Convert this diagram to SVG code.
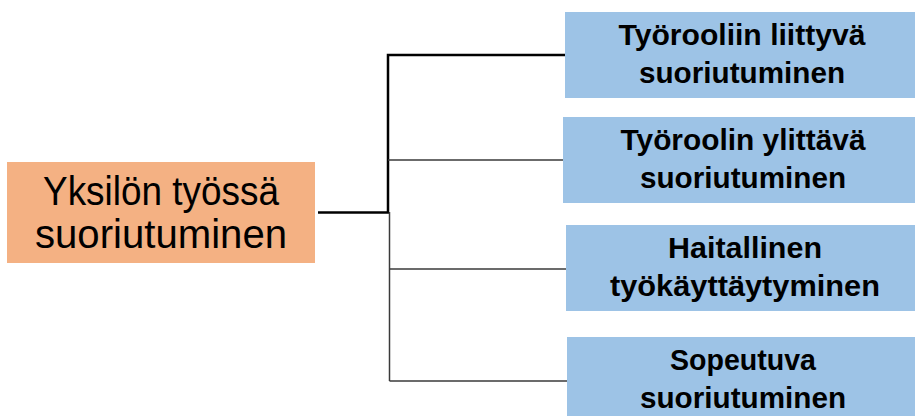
<svg xmlns="http://www.w3.org/2000/svg" width="915" height="416" viewBox="0 0 915 416">
  <style>
    .root { fill: #F4B183; }
    .leaf { fill: #9DC3E6; }
    .root-text { font-family: "Liberation Sans", Arial, sans-serif; font-size: 40px; fill: #000; text-anchor: middle; }
    .leaf-text { font-family: "Liberation Sans", Arial, sans-serif; font-size: 29px; font-weight: bold; fill: #000; text-anchor: middle; }
    .strong { stroke: #000; stroke-width: 2.5; fill: none; }
    .thin { stroke: #3a3a3a; stroke-width: 1.5; fill: none; }
  </style>
  <rect width="915" height="416" fill="#fff"/>

  <!-- connectors: trunk, spine and branches -->
  <g id="connectors">
    <line class="strong" x1="318" y1="212.5" x2="389" y2="212.5"/>
    <polyline class="strong" points="388,212.5 388,55 565,55"/>
    <line class="thin" x1="389.5" y1="212" x2="389.5" y2="381"/>
    <line class="thin" x1="388" y1="160" x2="563" y2="160"/>
    <line class="thin" x1="389" y1="269" x2="566" y2="269"/>
    <line class="thin" x1="389.5" y1="381" x2="567" y2="381"/>
  </g>

  <g id="node-root">
    <rect class="root" x="7" y="162" width="308" height="101"/>
    <text class="root-text" x="161" y="205" textLength="236" lengthAdjust="spacingAndGlyphs">Yksilön työssä</text>
    <text class="root-text" x="161" y="248" textLength="252" lengthAdjust="spacingAndGlyphs">suoriutuminen</text>
  </g>

  <g id="node-tyorooliin">
    <rect class="leaf" x="565" y="12" width="350" height="86"/>
    <text class="leaf-text" x="742" y="45" textLength="247" lengthAdjust="spacingAndGlyphs">Työrooliin liittyvä</text>
    <text class="leaf-text" x="742" y="83" textLength="206" lengthAdjust="spacingAndGlyphs">suoriutuminen</text>
  </g>

  <g id="node-ylittava">
    <rect class="leaf" x="563" y="117" width="352" height="86"/>
    <text class="leaf-text" x="743" y="150" textLength="245" lengthAdjust="spacingAndGlyphs">Työroolin ylittävä</text>
    <text class="leaf-text" x="743" y="188" textLength="206" lengthAdjust="spacingAndGlyphs">suoriutuminen</text>
  </g>

  <g id="node-haitallinen">
    <rect class="leaf" x="566" y="225" width="349" height="86"/>
    <text class="leaf-text" x="745" y="258" textLength="154" lengthAdjust="spacingAndGlyphs">Haitallinen</text>
    <text class="leaf-text" x="745" y="296" textLength="270" lengthAdjust="spacingAndGlyphs">työkäyttäytyminen</text>
  </g>

  <g id="node-sopeutuva">
    <rect class="leaf" x="567" y="337" width="348" height="86"/>
    <text class="leaf-text" x="743" y="370" textLength="146" lengthAdjust="spacingAndGlyphs">Sopeutuva</text>
    <text class="leaf-text" x="743" y="408" textLength="206" lengthAdjust="spacingAndGlyphs">suoriutuminen</text>
  </g>
</svg>
